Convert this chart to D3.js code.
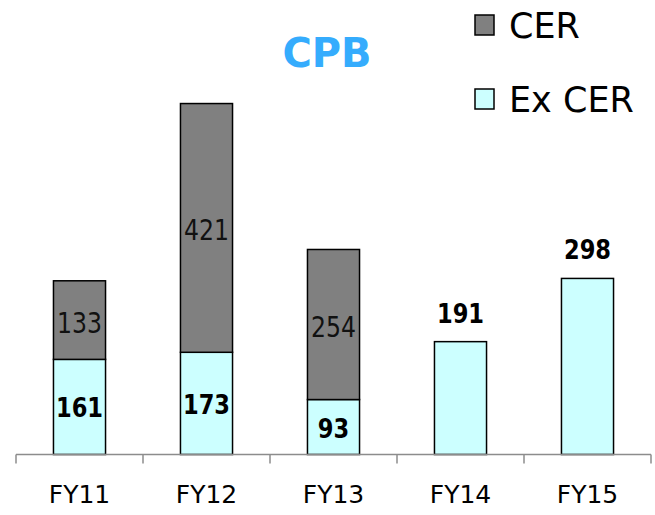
<!DOCTYPE html>
<html>
<head>
<meta charset="utf-8">
<script src="https://cdn.jsdelivr.net/npm/d3@7"></script>
<style>
  body { margin: 0; background: #fff; }
  svg { display: block; font-family: "DejaVu Sans", Verdana, sans-serif; }
  .bar { stroke: #000; stroke-width: 1.5; }
  .axis { stroke: #8c8c8c; stroke-width: 1.5; fill: none; }
</style>
</head>
<body>
<div id="chart"></div>
<script>
// data
const years = ["FY11", "FY12", "FY13", "FY14", "FY15"];
const exCer = [161, 173, 93, 191, 298];
const cer = [133, 421, 254, 0, 0];
const seriesNames = ["CER", "Ex CER"];
const colors = {"CER": "#808080", "Ex CER": "#ccffff"};

var width = 655, height = 515;
var svg = d3.select("#chart").append("svg")
    .attr("width", width)
    .attr("height", height);

var xScale = d3.scaleBand()
    .domain(years)
    .range([16, 651])
    .paddingInner(0.59)
    .paddingOuter(0.295);

var yScale = d3.scaleLinear()
    .domain([0, 600])
    .range([454.5, 100]);

// build stacked rows
var rows = years.map((y, i) => ({year: y, ex: exCer[i], cer: cer[i]}));

// ex CER segments
svg.selectAll("rect.ex")
    .data(rows)
    .enter().append("rect")
    .attr("class", "bar ex")
    .attr("x", d => xScale(d.year))
    .attr("width", xScale.bandwidth())
    .attr("y", d => yScale(d.ex))
    .attr("height", d => yScale(0) - yScale(d.ex))
    .attr("fill", colors["Ex CER"]);

// CER segments
svg.selectAll("rect.cer")
    .data(rows.filter(d => d.cer > 0))
    .enter().append("rect")
    .attr("class", "bar cer")
    .attr("x", d => xScale(d.year))
    .attr("width", xScale.bandwidth())
    .attr("y", d => yScale(d.ex + d.cer))
    .attr("height", d => yScale(d.ex) - yScale(d.ex + d.cer))
    .attr("fill", colors["CER"]);

// axis line + ticks between categories
svg.append("line")
    .attr("class", "axis")
    .attr("x1", 16).attr("x2", 651)
    .attr("y1", yScale(0)).attr("y2", yScale(0));

var step = xScale.step();
for (let i = 0; i <= years.length; i++) {
    var tx = xScale.range()[0] + i*step;
    svg.append("line")
        .attr("class", "axis")
        .attr("x1", tx).attr("x2", tx)
        .attr("y1", yScale(0)).attr("y2", yScale(0) + 9);
};

// category labels
svg.selectAll("text.cat")
    .data(years)
    .enter().append("text")
    .attr("class", "cat")
    .attr("x", d => xScale(d) + xScale.bandwidth()/2)
    .attr("y", 503)
    .attr("text-anchor", "middle")
    .attr("font-size", 25)
    .text(d => d);

// labels inside segments (digits are narrow in the original, squeeze them)
var mid = d => xScale(d.year) + xScale.bandwidth()/2;
var boldLen = v => String(v).length * 15.7;
var thinLen = v => String(v).length * 15;

svg.selectAll("text.exlab")
    .data(rows.filter(d => d.cer > 0))
    .enter().append("text")
    .attr("x", mid)
    .attr("y", d => (yScale(0) + yScale(d.ex))/2 + 10.5)
    .attr("text-anchor", "middle")
    .attr("font-size", 26)
    .attr("font-weight", "bold")
    .attr("textLength", d => boldLen(d.ex))
    .attr("lengthAdjust", "spacingAndGlyphs")
    .text(d => d.ex);

svg.selectAll("text.cerlab")
    .data(rows.filter(d => d.cer > 0))
    .enter().append("text")
    .attr("x", mid)
    .attr("y", d => (yScale(d.ex) + yScale(d.ex + d.cer))/2 + 12.5)
    .attr("text-anchor", "middle")
    .attr("font-size", 29)
    .attr("textLength", d => thinLen(d.cer))
    .attr("lengthAdjust", "spacingAndGlyphs")
    .attr("fill", "#111")
    .text(d => d.cer);

// labels above bars without CER
svg.selectAll("text.toplab")
    .data(rows.filter(d => d.cer == 0))
    .enter().append("text")
    .attr("x", mid)
    .attr("y", d => yScale(d.ex) - 19)
    .attr("text-anchor", "middle")
    .attr("font-size", 26)
    .attr("font-weight", "bold")
    .attr("textLength", d => boldLen(d.ex))
    .attr("lengthAdjust", "spacingAndGlyphs")
    .text(d => d.ex);

// title
svg.append("text")
    .attr("x", 327)
    .attr("y", 67)
    .attr("text-anchor", "middle")
    .attr("font-size", 40)
    .attr("font-weight", "bold")
    .attr("fill", "#35acfd")
    .text("CPB");

// legend
var legendY = [38, 112];
seriesNames.forEach((name, i) => {
    svg.append("rect")
        .attr("x", 475)
        .attr("y", legendY[i] - 23)
        .attr("width", 19)
        .attr("height", 20)
        .attr("fill", colors[name])
        .attr("stroke", "#000")
        .attr("stroke-width", 1.5);
    svg.append("text")
        .attr("x", 509)
        .attr("y", legendY[i])
        .attr("font-size", 35)
        .attr("fill", "#000")
        .text(name);
});
</script>
</body>
</html>
